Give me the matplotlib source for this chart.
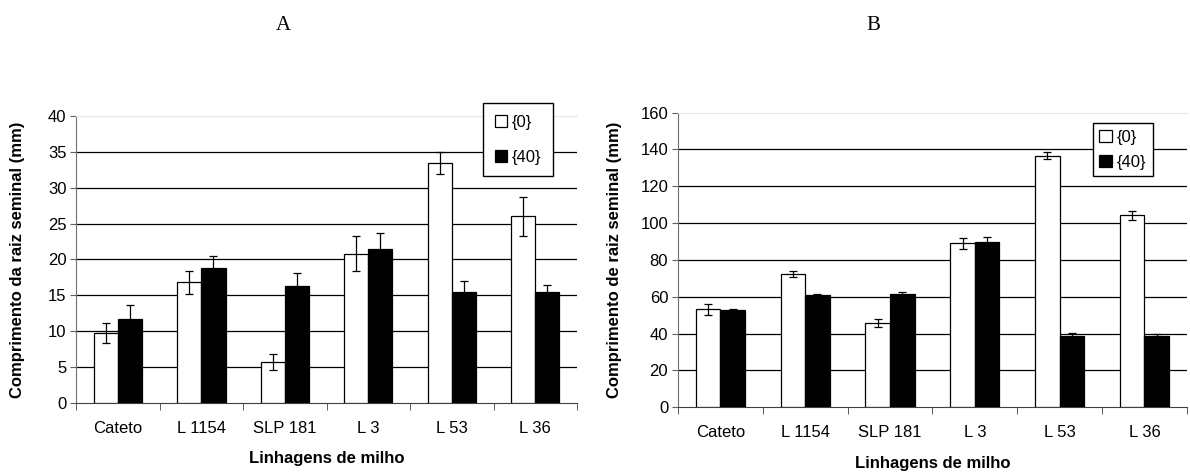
import numpy as np
import matplotlib
matplotlib.use('Agg')
import matplotlib.pyplot as plt

plt.rcParams['font.family'] = ['Liberation Sans', 'DejaVu Sans']

linhagens = ['Cateto', 'L 1154', 'SLP 181', 'L 3', 'L 53', 'L 36']
series_names = ['{0}', '{40}']

# painel A - comprimento da raiz seminal (mm)
a_0 = [9.8, 16.8, 5.7, 20.8, 33.4, 26.0]
a_0_err = [1.4, 1.6, 1.1, 2.4, 1.5, 2.7]
a_40 = [11.7, 18.8, 16.3, 21.4, 15.5, 15.5]
a_40_err = [2.0, 1.7, 1.8, 2.3, 1.5, 1.0]

# painel B - comprimento de raiz seminal (mm)
b_0 = [53.2, 72.4, 45.9, 89.0, 136.6, 104.2]
b_0_err = [2.9, 1.5, 2.2, 3.0, 1.8, 2.5]
b_40 = [52.8, 61.0, 61.5, 89.9, 38.9, 38.9]
b_40_err = [0.5, 0.5, 1.0, 2.4, 1.3, 1.1]

FS = 12


def desenha_painel(ax, v0, e0, v40, e40, ymax, ystep, ylabel, ylabel_x,
                   leg_anchor, leg_spacing, leg_pad):
    x = np.arange(len(linhagens))
    w = 0.29
    ax.bar(x - w / 2, v0, w, yerr=e0, color='white', edgecolor='black', linewidth=0.9,
           capsize=3, error_kw={'elinewidth': 0.9, 'capthick': 0.9}, label=series_names[0], zorder=3)
    ax.bar(x + w / 2, v40, w, yerr=e40, color='black', edgecolor='black', linewidth=0.9,
           capsize=3, error_kw={'elinewidth': 0.9, 'capthick': 0.9}, label=series_names[1], zorder=3)

    ax.set_xlim(-0.5, len(linhagens) - 0.5)
    ax.set_ylim(0, ymax)
    ax.set_yticks(np.arange(0, ymax + 1, ystep))
    ax.set_xticks(x)
    ax.set_xticklabels(linhagens)
    ax.set_xticks(np.arange(-0.5, len(linhagens), 1), minor=True)
    ax.tick_params(axis='x', which='major', length=0, pad=13, labelsize=FS)
    ax.tick_params(axis='x', which='minor', length=5, direction='out', color='#404040')
    ax.tick_params(axis='y', length=4, direction='out', color='#606060', labelsize=FS, pad=3)

    # linhas de grade pretas
    for v in np.arange(ystep, ymax, ystep):
        ax.axhline(v, color='black', linewidth=0.9, zorder=1)

    ax.spines['right'].set_visible(False)
    ax.spines['top'].set_color('#e6e6e6')
    ax.spines['left'].set_color('#707070')
    ax.spines['bottom'].set_color('#404040')

    ax.set_ylabel(ylabel, fontsize=FS, fontweight='bold')
    ax.yaxis.set_label_coords(ylabel_x, 0.5)
    ax.set_xlabel('Linhagens de milho', fontsize=FS, fontweight='bold', labelpad=11)

    ax.legend(loc='upper left', bbox_to_anchor=leg_anchor, fontsize=FS, frameon=True,
              fancybox=False, edgecolor='black', framealpha=1, labelspacing=leg_spacing,
              handlelength=0.75, handleheight=0.75, handletextpad=0.3, borderpad=leg_pad,
              borderaxespad=0)


fig = plt.figure(figsize=(11.9, 4.73), dpi=100)
ax_a = fig.add_axes([0.0639, 0.148, 0.421, 0.607])
ax_b = fig.add_axes([0.5697, 0.139, 0.4277, 0.623])

desenha_painel(ax_a, a_0, a_0_err, a_40, a_40_err, 40, 5,
               'Comprimento da raiz seminal (mm)', -0.102, (0.812, 1.045), 1.2, 0.7)
desenha_painel(ax_b, b_0, b_0_err, b_40, b_40_err, 160, 20,
               'Comprimento de raiz seminal (mm)', -0.110, (0.815, 0.965), 0.6, 0.4)

fig.text(283 / 1190, 1 - 26 / 473, 'A', ha='center', va='center', fontsize=15,
         family='Liberation Serif')
fig.text(873 / 1190, 1 - 26 / 473, 'B', ha='center', va='center', fontsize=15,
         family='Liberation Serif')

fig.savefig('out.png', dpi=100)
